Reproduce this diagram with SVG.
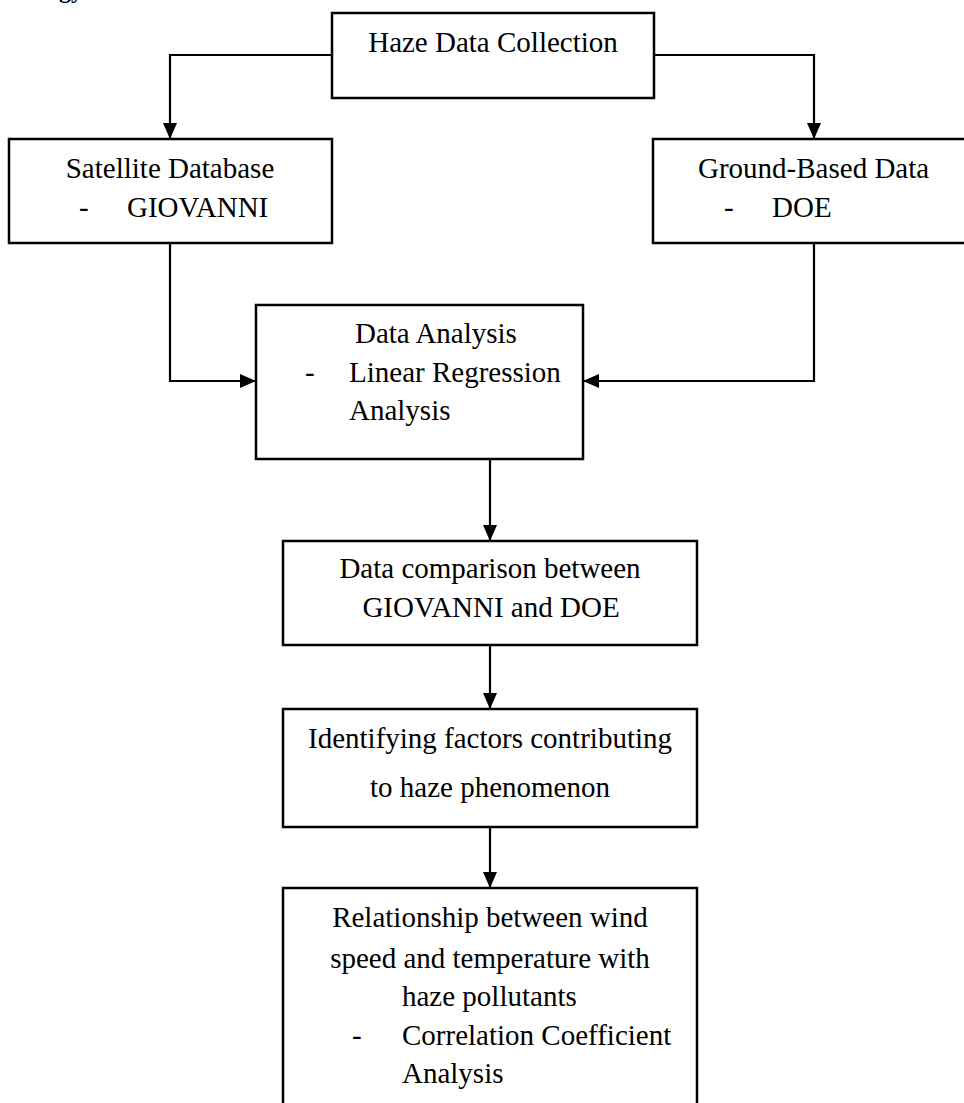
<svg xmlns="http://www.w3.org/2000/svg" width="964" height="1103" viewBox="0 0 964 1103">
<style>
  .box { fill: #ffffff; stroke: #000000; stroke-width: 2.5; }
  .con { fill: none; stroke: #000000; stroke-width: 2.2; }
  text { font-family: "Liberation Serif", "Times New Roman", serif; font-size: 29px; fill: #000000; }
  .c { text-anchor: middle; }
</style>
<defs>
  <marker id="arrow" markerUnits="userSpaceOnUse" markerWidth="16" markerHeight="14" refX="16" refY="7" orient="auto">
    <path d="M0,0 L16,7 L0,14 z" fill="#000000"/>
  </marker>
</defs>
<rect width="964" height="1103" fill="#ffffff"/>
<text x="47" y="-2" style="font-size:24px;font-weight:bold">ogy</text>
<g id="connectors">
  <path class="con" d="M332,55 H170 V139" marker-end="url(#arrow)"/>
  <path class="con" d="M654,55 H814 V139" marker-end="url(#arrow)"/>
  <path class="con" d="M170,243 V381 H256" marker-end="url(#arrow)"/>
  <path class="con" d="M814,243 V381 H583" marker-end="url(#arrow)"/>
  <path class="con" d="M490,459 V541" marker-end="url(#arrow)"/>
  <path class="con" d="M490,645 V709" marker-end="url(#arrow)"/>
  <path class="con" d="M490,827 V888" marker-end="url(#arrow)"/>
</g>
<g id="haze-data-collection">
  <rect class="box" x="332" y="13" width="322" height="85"/>
  <text class="c" x="493" y="52">Haze Data Collection</text>
</g>
<g id="satellite-database">
  <rect class="box" x="9" y="139" width="323" height="104"/>
  <text class="c" x="170" y="178">Satellite Database</text>
  <text x="79" y="217">-</text>
  <text x="127" y="217">GIOVANNI</text>
</g>
<g id="ground-based-data">
  <rect class="box" x="653" y="139" width="320" height="104"/>
  <text x="698" y="178">Ground-Based Data</text>
  <text x="724" y="217">-</text>
  <text x="772" y="217">DOE</text>
</g>
<g id="data-analysis">
  <rect class="box" x="256" y="305" width="327" height="154"/>
  <text x="355" y="343">Data Analysis</text>
  <text x="305" y="382">-</text>
  <text x="349" y="382">Linear Regression</text>
  <text x="349" y="420">Analysis</text>
</g>
<g id="data-comparison">
  <rect class="box" x="283" y="541" width="414" height="104"/>
  <text class="c" x="490" y="578">Data comparison between</text>
  <text class="c" x="491" y="617">GIOVANNI and DOE</text>
</g>
<g id="identifying-factors">
  <rect class="box" x="283" y="709" width="414" height="118"/>
  <text class="c" x="490" y="748">Identifying factors contributing</text>
  <text class="c" x="490" y="797">to haze phenomenon</text>
</g>
<g id="relationship">
  <rect class="box" x="283" y="888" width="414" height="230"/>
  <text class="c" x="490" y="927">Relationship between wind</text>
  <text class="c" x="490" y="968">speed and temperature with</text>
  <text x="402" y="1006">haze pollutants</text>
  <text x="352" y="1045">-</text>
  <text x="402" y="1045">Correlation Coefficient</text>
  <text x="402" y="1083">Analysis</text>
</g>
</svg>
